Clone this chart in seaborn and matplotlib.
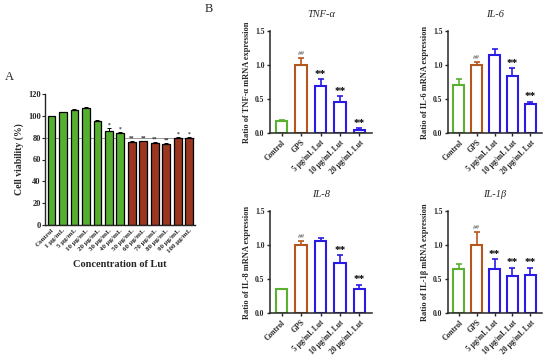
import numpy as np
import matplotlib
matplotlib.use("Agg")
import matplotlib.pyplot as plt
import seaborn as sns

sns.set_style("ticks")
plt.rcParams['font.family'] = ['Liberation Serif', 'DejaVu Serif']
plt.rcParams['font.weight'] = 'bold'
plt.rcParams['axes.labelweight'] = 'bold'

# ---- panel A data ----
conc_labels = ["Control", "1 μg/mL", "5 μg/mL", "10 μg/mL", "20 μg/mL", "30 μg/mL",
               "40 μg/mL", "50 μg/mL", "60 μg/mL", "70 μg/mL", "80 μg/mL",
               "90 μg/mL", "100 μg/mL"]
viability = [99.5, 103.3, 105.5, 107.3, 95.0, 86.0, 84.0, 76.0, 76.5, 75.0, 74.0, 79.5, 79.5]
viability_err = [0.5, 0.5, 0.8, 0.6, 1.5, 3.0, 1.5, 0.8, 0.8, 0.8, 0.8, 1.2, 1.2]
viability_sig = ["", "", "", "", "", "*", "*", "**", "**", "**", "**", "*", "*"]

# ---- panel B data ----
groups = ["Control", "GPS", "5 μg/mL Lut", "10 μg/mL Lut", "20 μg/mL Lut"]
tnf_mean = [0.17, 1.0, 0.69, 0.46, 0.05]
tnf_err = [0.02, 0.10, 0.10, 0.08, 0.02]
tnf_sig = ["", "##", "**", "**", "**"]
il6_mean = [0.71, 1.0, 1.14, 0.84, 0.42]
il6_err = [0.08, 0.04, 0.09, 0.11, 0.04]
il6_sig = ["", "##", "", "**", "**"]
il8_mean = [0.35, 1.0, 1.06, 0.73, 0.35]
il8_err = [0.01, 0.06, 0.05, 0.12, 0.06]
il8_sig = ["", "##", "", "**", "**"]
il1b_mean = [0.64, 1.0, 0.65, 0.54, 0.56]
il1b_err = [0.08, 0.19, 0.14, 0.12, 0.10]
il1b_sig = ["", "##", "**", "**", "**"]

fig = plt.figure(figsize=(5.5, 3.6), dpi=100)
W, H = 550, 360


def px_axes(x0, y0, x1, y1):
    return fig.add_axes([x0 / W, 1 - y1 / H, (x1 - x0) / W, (y1 - y0) / H])


# ---------------- panel A ----------------
axA = px_axes(45, 94, 195, 225)
barcols = ["#4dc51b"] * 7 + ["#b0280c"] * 6
sns.barplot(x=conc_labels, y=viability, hue=conc_labels, palette=barcols, legend=False,
            edgecolor="black", linewidth=0.9, width=0.66, ax=axA)
axA.errorbar(range(len(viability)), viability, yerr=[np.zeros(13), viability_err],
             fmt="none", ecolor="black", elinewidth=0.7, capsize=1.5, capthick=0.7)
axA.axhline(80, color="#888888", lw=0.6, zorder=0)
for i, s in enumerate(viability_sig):
    if s:
        axA.text(i, viability[i] + viability_err[i] + 0.3, s, ha="center", va="bottom",
                 fontsize=4, color="#333333")
axA.set_xlim(-0.55, 12.5)
axA.set_ylim(0, 120)
axA.set_yticks(range(0, 121, 20))
axA.set_ylabel("Cell viability (%)", fontsize=7, labelpad=3)
axA.set_xlabel("Concentration of Lut", fontsize=7.5, labelpad=4)
axA.set_xticks(range(13))
axA.set_xticklabels(conc_labels, rotation=45, ha="right", rotation_mode="anchor", fontsize=5)
axA.tick_params(axis="y", labelsize=6, length=2, width=0.8, pad=1)
axA.tick_params(axis="x", length=0, pad=2)
sns.despine(ax=axA)
for sp in axA.spines.values():
    sp.set_linewidth(1.0)
fig.text(5 / W, 1 - 77 / H, "A", fontsize=9, fontweight="normal", va="center")

# ---------------- panel B ----------------
colsB = ["#5bb032", "#b5561e", "#2b1ae4", "#2b1ae4", "#2b1ae4"]
panels = [
    ("TNF-α", "Ratio of TNF-α mRNA expression", tnf_mean, tnf_err, tnf_sig, (270, 31, 372, 133)),
    ("IL-6", "Ratio of IL-6 mRNA expression", il6_mean, il6_err, il6_sig, (448, 31, 542, 133)),
    ("IL-8", "Ratio of IL-8 mRNA expression", il8_mean, il8_err, il8_sig, (270, 211, 372, 313)),
    ("IL-1β", "Ratio of IL-1β mRNA expression", il1b_mean, il1b_err, il1b_sig, (448, 211, 542, 313)),
]
for title, ylab, mean, err, sig, box in panels:
    ax = px_axes(*box)
    sns.barplot(x=groups, y=mean, hue=groups, palette=colsB, legend=False, fill=False,
                linewidth=1.5, width=0.6, ax=ax)
    for i in range(len(groups)):
        ax.errorbar(i, mean[i], yerr=[[0], [err[i]]], fmt="none", ecolor=colsB[i],
                    elinewidth=1.2, capsize=2.5, capthick=1.2)
        if sig[i] == "##":
            ax.text(i, mean[i] + err[i] + 0.03, sig[i], ha="center", va="bottom",
                    fontsize=5, style="italic", fontweight="normal", color="#555555")
        elif sig[i]:
            ax.text(i, mean[i] + err[i] + 0.01, sig[i], ha="center", va="bottom",
                    fontsize=8, color="black")
    ax.set_xlim(-0.6, 4.65)
    ax.set_ylim(0, 1.5)
    ax.set_yticks([0, 0.5, 1.0, 1.5])
    ax.set_yticklabels(["0.0", "0.5", "1.0", "1.5"])
    ax.set_title(title, fontsize=7.5, style="italic", pad=10)
    ax.set_ylabel(ylab, fontsize=6, labelpad=3)
    ax.set_xticks(range(5))
    ax.set_xticklabels(groups, rotation=45, ha="right", rotation_mode="anchor", fontsize=5)
    ax.tick_params(axis="both", labelsize=5.5, length=2.5, width=1.0, pad=1.5)
    sns.despine(ax=ax)
    for sp in ax.spines.values():
        sp.set_linewidth(1.1)
fig.text(205 / W, 1 - 9 / H, "B", fontsize=9, fontweight="normal", va="center")

fig.savefig("out.png", dpi=100)
